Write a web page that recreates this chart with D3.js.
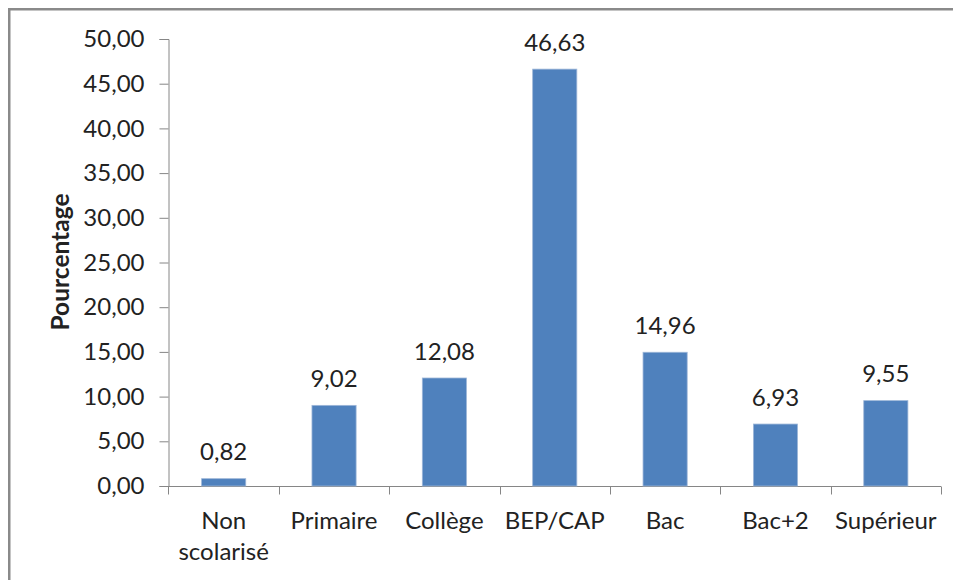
<!DOCTYPE html>
<html>
<head>
<meta charset="utf-8">
<script src="https://cdn.jsdelivr.net/npm/d3@7"></script>
<style>
  html, body { margin: 0; padding: 0; background: #fff; }
  svg { display: block; }
  text { font-family: Lato, "Open Sans", sans-serif; fill: #222; }
</style>
</head>
<body>
<svg id="chart" width="953" height="580"></svg>
<script>
// Répartition par niveau de diplôme (%)
const categories = ["Non scolarisé", "Primaire", "Collège", "BEP/CAP", "Bac", "Bac+2", "Supérieur"];
const categoryLines = [["Non", "scolarisé"], ["Primaire"], ["Collège"], ["BEP/CAP"], ["Bac"], ["Bac+2"], ["Supérieur"]];
const values = [0.82, 9.02, 12.08, 46.63, 14.96, 6.93, 9.55];
const yTicks = [0, 5, 10, 15, 20, 25, 30, 35, 40, 45, 50];
const yTitle = "Pourcentage";

const svg = d3.select("#chart");
const fmt = v => v.toFixed(2).replace(".", ",");

// outer frame of the chart area
svg.append("rect")
  .attr("x", 9.25).attr("y", 9.25)
  .attr("width", 1000).attr("height", 1000)
  .attr("fill", "none")
  .attr("stroke", "#8a8a8a")
  .attr("stroke-width", 2.5);

const x = d3.scaleBand()
  .domain(categories)
  .range([168.5, 941])
  .paddingInner(0.6)
  .paddingOuter(0.3);

const y = d3.scaleLinear()
  .domain([0, 50])
  .range([486, 39]);

const axisColor = "#868686";

// y axis
const yAxis = svg.append("g")
  .attr("transform", "translate(168.5,0)")
  .call(d3.axisLeft(y).tickValues(yTicks).tickSize(9).tickPadding(15).tickFormat(fmt));
yAxis.select(".domain").attr("stroke", axisColor);
yAxis.selectAll(".tick line").attr("stroke", axisColor);
yAxis.selectAll(".tick text")
  .attr("font-size", 24)
  .attr("font-family", "Lato, 'Open Sans', sans-serif")
  .attr("fill", "#222");

// x axis: ticks sit on band boundaries
const xAxisG = svg.append("g").attr("transform", "translate(0,486.5)");
xAxisG.append("line")
  .attr("x1", x.range()[0]).attr("x2", x.range()[1])
  .attr("stroke", axisColor);
const boundaries = categories.map(c => x(c) - x.step() * x.paddingOuter())
  .concat([x.range()[1]]);
xAxisG.selectAll("line.tick")
  .data(boundaries)
  .join("line")
  .attr("class", "tick")
  .attr("x1", d => Math.round(d) + 0.5).attr("x2", d => Math.round(d) + 0.5)
  .attr("y1", 0).attr("y2", 8)
  .attr("stroke", axisColor);

// category labels
const catLabels = svg.append("g").selectAll("text")
  .data(categories)
  .join("text")
  .attr("text-anchor", "middle")
  .attr("font-size", 24)
  .attr("x", d => x(d) + x.bandwidth() / 2)
  .attr("y", 529);
catLabels.each(function(d, i) {
  d3.select(this).selectAll("tspan")
    .data(categoryLines[i])
    .join("tspan")
    .attr("x", x(d) + x.bandwidth() / 2)
    .attr("dy", (t, j) => j === 0 ? 0 : 31)
    .text(t => t);
});

// bars
svg.append("g").selectAll("rect")
  .data(values)
  .join("rect")
  .attr("x", (d, i) => x(categories[i]))
  .attr("y", d => y(d))
  .attr("width", x.bandwidth())
  .attr("height", d => y(0) - y(d))
  .attr("fill", "#4F81BD")
  .attr("stroke", "#9db6d8")
  .attr("stroke-width", 0.8);

// value labels
svg.append("g").selectAll("text")
  .data(values)
  .join("text")
  .attr("text-anchor", "middle")
  .attr("font-size", 24)
  .attr("x", (d, i) => x(categories[i]) + x.bandwidth() / 2)
  .attr("y", d => y(d) - 18.5)
  .text(fmt);

// y axis title
svg.append("text")
  .attr("transform", "translate(69,262) rotate(-90)")
  .attr("text-anchor", "middle")
  .attr("font-size", 24.5)
  .attr("font-weight", "bold")
  .attr("fill", "#000")
  .text(yTitle);
</script>
</body>
</html>
